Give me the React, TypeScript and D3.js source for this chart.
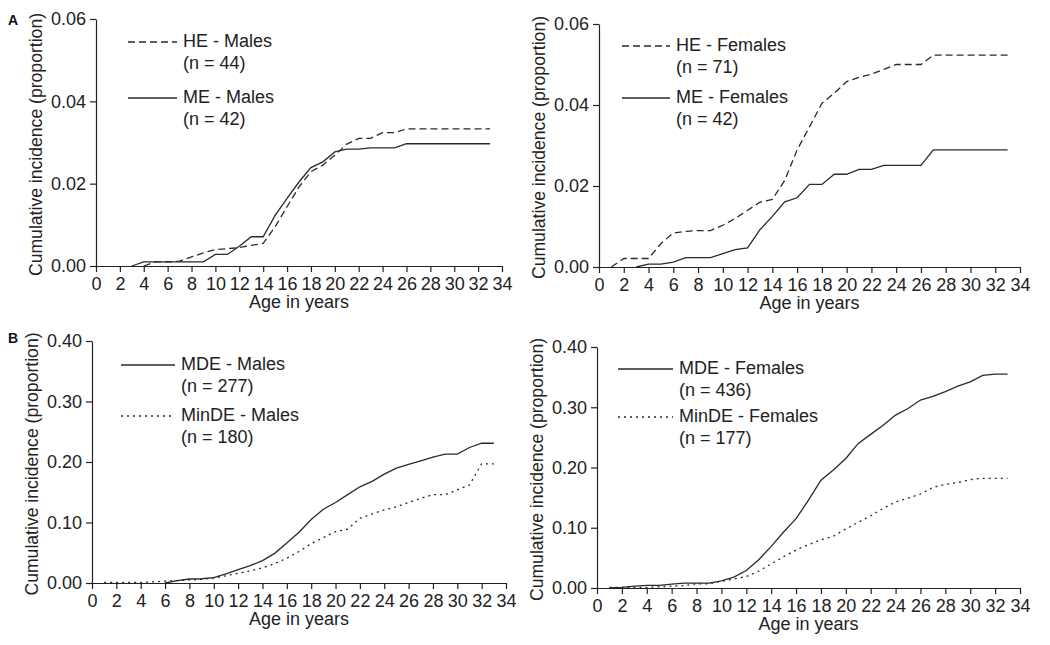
import React, {useEffect, useRef} from 'react';
import * as d3 from 'd3';

// ages (x) and cumulative incidence (y)
const heMalesAge = [4, 5, 6, 7, 8, 9, 10, 11, 12, 13, 14, 15, 16, 17, 18, 19, 20, 21, 22, 23, 24, 25, 26, 33]
const heMalesVal = [0, 0.001, 0.001, 0.0012, 0.0022, 0.0032, 0.004, 0.0042, 0.0045, 0.005, 0.0055, 0.0095, 0.0144, 0.0192, 0.0229, 0.0245, 0.0269, 0.0296, 0.031, 0.031, 0.0324, 0.0324, 0.0333, 0.0333]

const meMalesAge = [3, 4, 5, 6, 7, 8, 9, 10, 11, 12, 13, 14, 15, 16, 17, 18, 19, 20, 21, 22, 23, 24, 25, 26, 33]
const meMalesVal = [0, 0.001, 0.001, 0.001, 0.001, 0.001, 0.001, 0.0028, 0.0028, 0.0048, 0.0071, 0.0071, 0.0123, 0.0164, 0.0204, 0.0239, 0.0253, 0.0277, 0.0284, 0.0284, 0.0287, 0.0287, 0.0287, 0.0297, 0.0297]

const heFemAge = [1, 2, 3, 4, 5, 6, 7, 8, 9, 10, 11, 12, 13, 14, 15, 16, 17, 18, 19, 20, 21, 22, 23, 24, 25, 26, 27, 33]
const heFemVal = [0, 0.0021, 0.0021, 0.0021, 0.0058, 0.0084, 0.0088, 0.009, 0.009, 0.0103, 0.012, 0.014, 0.016, 0.0167, 0.0214, 0.0289, 0.0346, 0.0404, 0.0429, 0.0458, 0.0468, 0.0476, 0.0488, 0.05, 0.05, 0.05, 0.0523, 0.0523]

const meFemAge = [3, 4, 5, 6, 7, 8, 9, 10, 11, 12, 13, 14, 15, 16, 17, 18, 19, 20, 21, 22, 23, 24, 25, 26, 27, 33]
const meFemVal = [0, 0.0007, 0.0007, 0.0012, 0.0023, 0.0023, 0.0023, 0.0033, 0.0043, 0.0047, 0.0092, 0.0125, 0.0161, 0.0171, 0.0204, 0.0204, 0.0229, 0.0229, 0.0241, 0.0241, 0.0251, 0.0251, 0.0251, 0.0251, 0.0289, 0.0289]

const mdeMalesAge = d3.range(6, 34)
const mdeMalesVal = [0, 0.004, 0.0066, 0.007, 0.009, 0.015, 0.022, 0.0286, 0.037, 0.049, 0.066, 0.084, 0.105, 0.122, 0.133, 0.146, 0.159, 0.168, 0.18, 0.19, 0.196, 0.202, 0.208, 0.213, 0.213, 0.224, 0.231, 0.231]

const minMalesAge = d3.range(1, 34)
const minMalesVal = [0.001, 0.001, 0.001, 0.001, 0.002, 0.003, 0.004, 0.005, 0.006, 0.008, 0.012, 0.016, 0.02, 0.025, 0.032, 0.041, 0.052, 0.065, 0.075, 0.085, 0.089, 0.107, 0.114, 0.121, 0.126, 0.133, 0.14, 0.146, 0.146, 0.154, 0.162, 0.197, 0.197]

const mdeFemAge = d3.range(1, 34)
const mdeFemVal = [0, 0.001, 0.003, 0.0045, 0.0045, 0.0066, 0.008, 0.008, 0.008, 0.012, 0.018, 0.029, 0.047, 0.069, 0.093, 0.115, 0.146, 0.179, 0.196, 0.215, 0.24, 0.255, 0.27, 0.287, 0.298, 0.312, 0.318, 0.326, 0.335, 0.342, 0.353, 0.355, 0.355]

const minFemAge = d3.range(1, 34)
const minFemVal = [0.001, 0.001, 0.001, 0.001, 0.002, 0.003, 0.004, 0.007, 0.007, 0.011, 0.015, 0.019, 0.028, 0.04, 0.052, 0.063, 0.072, 0.08, 0.086, 0.098, 0.109, 0.12, 0.132, 0.143, 0.149, 0.156, 0.167, 0.172, 0.175, 0.18, 0.182, 0.182, 0.182]

const xTicks = d3.range(0, 35, 2)
const yTicksA = [0, 0.02, 0.04, 0.06]
const yTicksB = [0, 0.1, 0.2, 0.3, 0.4]

const font = '"Liberation Sans", Arial, Helvetica, sans-serif'
const ink = '#222'
const dashed = '7,4'
const dotted = '2,4'

const Panel = ({box, yMax, yTicks, series, legend, tag}) => {
    const gRef = useRef()

    useEffect(() => {
        const g = d3.select(gRef.current)
        g.selectAll('*').remove()

        const xScale = d3.scaleLinear().domain([0, 34]).range([box.left, box.right])
        const yScale = d3.scaleLinear().domain([0, yMax]).range([box.bottom, box.top])

        const yAxis = g.append('g')
            .attr('transform', `translate(${box.left},0)`)
            .call(d3.axisLeft(yScale).tickValues(yTicks).tickFormat(d3.format('.2f')).tickSize(6).tickPadding(4).tickSizeOuter(0))
        const xAxis = g.append('g')
            .attr('transform', `translate(0,${box.bottom})`)
            .call(d3.axisBottom(xScale).tickValues(xTicks).tickSize(6).tickPadding(5).tickSizeOuter(0))

        ;[xAxis, yAxis].forEach(ax => {
            ax.selectAll('path, line').attr('stroke', ink).attr('stroke-width', 1.2)
            ax.selectAll('text').attr('fill', ink).style('font-family', font).style('font-size', '18px')
        })

        g.append('text')
            .attr('x', (box.left + box.right) / 2)
            .attr('y', box.bottom + 42)
            .attr('text-anchor', 'middle')
            .attr('fill', ink)
            .style('font-family', font).style('font-size', '18px')
            .text('Age in years')

        g.append('text')
            .attr('transform', `translate(${box.left - 54},${(box.top + box.bottom) / 2 + 2}) rotate(-90)`)
            .attr('text-anchor', 'middle')
            .attr('fill', ink)
            .style('font-family', font).style('font-size', '17.6px')
            .text('Cumulative incidence (proportion)')

        const lineGenerator = d3.line()
            .x(d => xScale(d[0]))
            .y(d => yScale(d[1]))

        series.forEach(s => {
            const pts = s.age.map((a, i) => [a, s.val[i]])
            g.append('path')
                .attr('d', lineGenerator(pts))
                .attr('fill', 'none')
                .attr('stroke', '#2a2a2a')
                .attr('stroke-width', 1.3)
                .attr('stroke-dasharray', s.dash)
        })

        legend.forEach(l => {
            g.append('line')
                .attr('x1', l.x1).attr('x2', l.x2)
                .attr('y1', l.y).attr('y2', l.y)
                .attr('stroke', '#2a2a2a')
                .attr('stroke-width', 1.3)
                .attr('stroke-dasharray', l.dash)
            g.append('text')
                .attr('x', l.x2 + 6)
                .attr('y', l.y + 5)
                .attr('fill', ink)
                .style('font-family', font).style('font-size', '18px')
                .text(l.name)
            g.append('text')
                .attr('x', l.x2 + 6)
                .attr('y', l.y + 27)
                .attr('fill', ink)
                .style('font-family', font).style('font-size', '18px')
                .text(l.n)
        })

        if (tag) {
            g.append('text')
                .attr('x', 8)
                .attr('y', tag.y)
                .attr('fill', '#111')
                .style('font-family', font).style('font-size', '14px').style('font-weight', 'bold')
                .text(tag.label)
        }
    }, [box, yMax, yTicks, series, legend, tag])

    return <g ref={gRef}/>
}

const panels = [
    {
        box: {left: 96, right: 502, top: 19, bottom: 266},
        yMax: 0.06, yTicks: yTicksA, tag: {label: 'A', y: 25},
        series: [
            {age: heMalesAge, val: heMalesVal, dash: dashed},
            {age: meMalesAge, val: meMalesVal, dash: null},
        ],
        legend: [
            {x1: 128, x2: 177, y: 42, dash: dashed, name: 'HE - Males', n: '(n = 44)'},
            {x1: 128, x2: 177, y: 98, dash: null, name: 'ME - Males', n: '(n = 42)'},
        ],
    },
    {
        box: {left: 599, right: 1020, top: 24, bottom: 267},
        yMax: 0.06, yTicks: yTicksA, tag: null,
        series: [
            {age: heFemAge, val: heFemVal, dash: dashed},
            {age: meFemAge, val: meFemVal, dash: null},
        ],
        legend: [
            {x1: 622, x2: 670, y: 46, dash: dashed, name: 'HE - Females', n: '(n = 71)'},
            {x1: 622, x2: 670, y: 98, dash: null, name: 'ME - Females', n: '(n = 42)'},
        ],
    },
    {
        box: {left: 92, right: 506, top: 341, bottom: 583},
        yMax: 0.4, yTicks: yTicksB, tag: {label: 'B', y: 343},
        series: [
            {age: mdeMalesAge, val: mdeMalesVal, dash: null},
            {age: minMalesAge, val: minMalesVal, dash: dotted},
        ],
        legend: [
            {x1: 121, x2: 175, y: 365, dash: null, name: 'MDE - Males', n: '(n = 277)'},
            {x1: 121, x2: 175, y: 416, dash: dotted, name: 'MinDE - Males', n: '(n = 180)'},
        ],
    },
    {
        box: {left: 597, right: 1020, top: 347, bottom: 588},
        yMax: 0.4, yTicks: yTicksB, tag: null,
        series: [
            {age: mdeFemAge, val: mdeFemVal, dash: null},
            {age: minFemAge, val: minFemVal, dash: dotted},
        ],
        legend: [
            {x1: 618, x2: 673, y: 369, dash: null, name: 'MDE - Females', n: '(n = 436)'},
            {x1: 618, x2: 673, y: 417, dash: dotted, name: 'MinDE - Females', n: '(n = 177)'},
        ],
    },
]

const App = () => {
    return (
        <svg width={1050} height={645} style={{position: 'absolute', left: 0, top: 0, background: '#fff'}}>
            {panels.map((p, i) => <Panel key={i} {...p}/>)}
        </svg>
    )
}

export default App
